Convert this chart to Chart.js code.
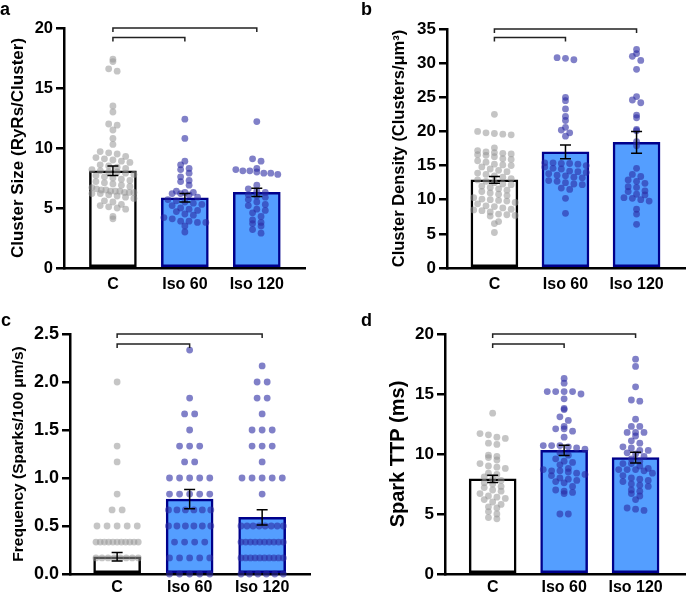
<!DOCTYPE html>
<html>
<head>
<meta charset="utf-8">
<script src="https://cdn.jsdelivr.net/npm/chart.js@4/dist/chart.umd.min.js"></script>
<style>
body { margin: 0; background: #fff; width: 689px; height: 593px; position: relative; overflow: hidden; font-family: "Liberation Sans", Arial, sans-serif; }
.panel { position: absolute; }
.tag { position: absolute; font-weight: bold; font-size: 18px; line-height: 18px; color: #000; }
</style>
</head>
<body>
<div class="panel" style="left:0;top:0"><canvas id="chart-a" width="345" height="295"></canvas></div>
<div class="panel" style="left:345px;top:0"><canvas id="chart-b" width="344" height="295"></canvas></div>
<div class="panel" style="left:0;top:295px"><canvas id="chart-c" width="345" height="298"></canvas></div>
<div class="panel" style="left:345px;top:295px"><canvas id="chart-d" width="344" height="298"></canvas></div>
<div class="tag" style="left:0;top:0">a</div>
<div class="tag" style="left:361px;top:0">b</div>
<div class="tag" style="left:1px;top:311px">c</div>
<div class="tag" style="left:361px;top:311px">d</div>
<script>
const groups = ["C", "Iso 60", "Iso 120"];

// a - cluster size
const sizeMeans = [8.1, 5.85, 6.3];
const sizeSems = [0.4, 0.35, 0.35];
const sizeC = [17.4, 17.2, 16.6, 16.4, 13.5, 13.0, 12.0, 11.9, 11.5, 10.8, 10.3, 9.7, 9.6, 9.5, 9.3, 9.2, 9.1, 9.0, 8.9, 8.8, 8.6, 8.5, 8.4, 8.3, 8.2, 8.1, 8.0, 8.0, 7.9, 7.8, 7.7, 7.6, 7.5, 7.4, 7.3, 7.2, 7.1, 7.0, 6.9, 6.8, 6.7, 6.6, 6.5, 6.5, 6.4, 6.4, 6.4, 6.3, 6.3, 6.3, 6.2, 6.2, 6.1, 6.0, 5.9, 5.8, 5.6, 5.5, 5.3, 5.2, 5.1, 5.0, 4.9, 4.3, 4.1];
const sizeIso60 = [12.4, 10.8, 8.9, 8.6, 8.3, 8.2, 7.9, 7.6, 7.3, 7.2, 6.9, 6.4, 6.3, 6.3, 6.2, 6.2, 6.1, 5.9, 5.7, 5.6, 5.5, 5.4, 5.3, 5.2, 5.0, 4.9, 4.8, 4.7, 4.5, 4.4, 4.2, 4.1, 3.9, 3.9, 3.8, 3.8, 3.5, 3.0];
const sizeIso120 = [12.2, 9.1, 8.9, 8.3, 8.2, 8.1, 8.1, 8.0, 7.9, 7.9, 7.8, 6.9, 6.6, 6.4, 6.3, 6.1, 6.0, 5.9, 5.7, 5.5, 5.3, 5.2, 4.9, 4.8, 4.6, 4.3, 4.0, 3.8, 3.7, 3.5, 3.2, 2.9];

// b - cluster density
const densityMeans = [12.9, 17.0, 18.4];
const densitySems = [0.5, 1.0, 1.6];
const densityC = [22.5, 20.0, 19.8, 19.7, 19.6, 19.5, 17.6, 17.2, 17.0, 16.9, 16.8, 16.7, 16.6, 16.5, 16.3, 16.0, 15.9, 15.7, 15.5, 15.2, 15.1, 15.0, 14.8, 14.5, 14.3, 14.1, 13.9, 13.7, 13.5, 13.3, 13.1, 12.9, 12.7, 12.5, 12.3, 12.2, 12.0, 11.8, 11.6, 11.4, 11.2, 11.0, 10.8, 10.6, 10.3, 10.1, 10.0, 9.9, 9.8, 9.6, 9.4, 9.1, 9.0, 8.8, 8.6, 8.5, 8.4, 8.2, 7.9, 7.8, 7.7, 7.6, 6.8, 6.5, 5.2];
const densityIso60 = [30.8, 30.7, 30.5, 25.0, 24.5, 23.3, 22.2, 21.6, 20.6, 20.2, 19.8, 19.3, 15.4, 15.4, 15.3, 15.3, 15.2, 15.0, 14.8, 14.6, 14.5, 14.2, 14.1, 14.0, 13.8, 13.6, 13.5, 13.3, 13.2, 12.8, 12.7, 12.5, 12.3, 12.2, 11.7, 11.5, 10.2, 8.0];
const densityIso120 = [32.0, 31.4, 31.0, 30.4, 29.1, 25.1, 24.6, 24.2, 22.4, 22.0, 20.3, 20.1, 18.5, 17.9, 14.6, 13.7, 13.4, 12.9, 12.7, 12.4, 11.9, 11.8, 11.3, 11.2, 10.8, 10.7, 10.3, 10.2, 10.0, 9.8, 8.6, 7.9, 6.4];

// c - spark frequency
const freqMeans = [0.18, 0.78, 0.59];
const freqSems = [0.045, 0.1, 0.08];
const freqC = [2.0, 1.333, 1.167, 0.833, 0.667, 0.667, 0.5, 0.5, 0.5, 0.5, 0.5,
  0.333, 0.333, 0.333, 0.333, 0.333, 0.333, 0.333, 0.333, 0.333, 0.333, 0.333,
  0.167, 0.167, 0.167, 0.167, 0.167, 0.167, 0.167, 0.167];
const freqIso60 = [2.333, 1.833, 1.667, 1.667, 1.5, 1.333, 1.333, 1.333, 1.167, 1.167,
  1.0, 1.0, 1.0, 1.0, 1.0, 0.833, 0.833, 0.833, 0.833, 0.833,
  0.667, 0.667, 0.667, 0.667, 0.667, 0.667, 0.5, 0.5, 0.5, 0.5, 0.5, 0.5,
  0.333, 0.333, 0.333, 0.333, 0.167, 0.167, 0.167, 0.167, 0.167, 0, 0, 0, 0, 0];
const freqIso120 = [2.167, 2.0, 2.0, 1.833, 1.833, 1.667, 1.5, 1.5, 1.5, 1.333, 1.333, 1.333, 1.167,
  1.0, 1.0, 1.0, 1.0, 1.0, 0.833,
  0.5, 0.5, 0.5, 0.5, 0.5, 0.5, 0.5, 0.5,
  0.333, 0.333, 0.333, 0.333, 0.333, 0.333, 0.333, 0.333, 0.333, 0.333,
  0.167, 0.167, 0.167, 0.167, 0.167, 0.167, 0.167, 0.167, 0.167, 0.167, 0, 0, 0, 0, 0, 0];

// d - spark time to peak
const ttpMeans = [7.93, 10.3, 9.7];
const ttpSems = [0.3, 0.42, 0.45];
const ttpC = [13.4, 11.7, 11.6, 11.4, 11.3, 10.9, 10.8, 9.9, 9.8, 9.7, 9.5, 9.2, 9.0, 8.9, 8.8, 8.4, 8.3, 8.1, 7.9, 7.8, 7.6, 7.5, 7.3, 7.2, 7.0, 6.9, 6.7, 6.5, 6.4, 6.3, 6.2, 6.0, 5.8, 5.6, 5.5, 5.2, 5.0, 4.7, 4.6];
const ttpIso60 = [16.3, 15.9, 15.2, 15.2, 15.2, 15.2, 15.0, 14.6, 13.8, 13.7, 13.1, 12.8, 12.3, 12.1, 12.1, 11.9, 11.4, 10.7, 10.7, 10.7, 10.6, 10.5, 10.4, 10.1, 9.9, 9.6, 9.4, 9.3, 9.1, 8.8, 8.7, 8.6, 8.6, 8.5, 8.4, 8.3, 8.2, 8.0, 7.9, 7.8, 7.7, 7.6, 7.3, 7.0, 6.9, 6.8, 6.7, 5.0, 5.0];
const ttpIso120 = [17.9, 17.3, 15.6, 14.5, 14.4, 12.9, 12.3, 12.3, 11.8, 11.8, 11.8, 11.5, 11.1, 10.9, 10.6, 10.5, 10.3, 10.3, 10.1, 10.0, 9.8, 9.6, 9.4, 9.2, 9.2, 9.0, 8.8, 8.7, 8.7, 8.7, 8.6, 8.4, 8.2, 8.0, 7.9, 7.8, 7.7, 7.5, 7.4, 7.3, 7.0, 6.9, 6.7, 6.5, 6.2, 5.5, 5.4, 5.3];

const COL_PX = 72; // pixels per group column

// simple row-binned scatter layout (like a column scatter plot)
function swarm(values, bin, gap) {
	const rows = {};
	values.forEach((v, i) => {
		const k = Math.round(v / bin);
		(rows[k] = rows[k] || []).push(i);
	});
	const off = new Array(values.length).fill(0);
	Object.values(rows).forEach(idx => {
		const n = idx.length;
		const s = n > 1 ? Math.min(gap, 42 / (n - 1)) : 0;
		idx.forEach((i, j) => { off[i] = (j - (n - 1) / 2) * s / COL_PX; });
	});
	return off;
}

function makePanel(id, cfg) {
	const blue = "rgb(84,158,255)";
	const navy = "rgb(0,0,139)";
	const family = "'Liberation Sans', Arial, sans-serif";
	const tickFont = { family: family, size: cfg.tickSize, weight: "bold" };
	const labelFont = { family: family, size: 16, weight: "bold" };

	const dots = cfg.values.map((vals, i) => {
		const off = swarm(vals, cfg.bin, cfg.gap);
		return {
			type: "scatter",
			data: vals.map((v, j) => ({ x: i + off[j], y: v })),
			pointRadius: 3.4,
			pointHoverRadius: 3.4,
			pointBorderWidth: 0,
			pointBackgroundColor: i === 0 ? "rgba(150,150,150,0.55)" : "rgba(43,43,163,0.6)",
			clip: false,
			order: 1
		};
	});

	const marks = {
		id: "marks",
		afterDatasetsDraw(chart) {
			const { ctx, scales: { x, y } } = chart;
			ctx.save();
			ctx.strokeStyle = "#000";
			ctx.lineWidth = 1.5;
			cfg.means.forEach((m, i) => {
				const cx = x.getPixelForValue(i);
				const top = y.getPixelForValue(m + cfg.sems[i]);
				const bot = y.getPixelForValue(m - cfg.sems[i]);
				ctx.beginPath();
				ctx.moveTo(cx, top); ctx.lineTo(cx, bot);
				ctx.moveTo(cx - 5.5, top); ctx.lineTo(cx + 5.5, top);
				ctx.moveTo(cx - 5.5, bot); ctx.lineTo(cx + 5.5, bot);
				ctx.stroke();
			});
			ctx.strokeStyle = "#222";
			cfg.brackets.forEach(b => {
				const yy = y.getPixelForValue(b.level);
				const x0 = x.getPixelForValue(b.from);
				const x1 = x.getPixelForValue(b.to);
				ctx.beginPath();
				ctx.moveTo(x0, yy + 4); ctx.lineTo(x0, yy); ctx.lineTo(x1, yy); ctx.lineTo(x1, yy + 4);
				ctx.stroke();
			});
			ctx.restore();
		}
	};

	return new Chart(document.getElementById(id), {
		type: "bar",
		data: {
			datasets: [{
				type: "bar",
				data: cfg.means.map((m, i) => ({ x: i, y: m })),
				backgroundColor: ["#fff", blue, blue],
				borderColor: ["#000", navy, navy],
				borderWidth: 2.5,
				borderSkipped: false,
				barThickness: 47,
				order: 2
			}].concat(dots)
		},
		options: {
			responsive: false,
			animation: false,
			events: [],
			layout: { padding: { left: 0, top: cfg.top, right: cfg.right, bottom: 0 } },
			plugins: { legend: { display: false }, tooltip: { enabled: false } },
			scales: {
				x: {
					type: "linear",
					offset: false,
					min: cfg.xmin,
					max: cfg.xmax,
					afterBuildTicks: s => { s.ticks = [0, 1, 2].map(v => ({ value: v })); },
					afterFit: s => { s.height = cfg.xh; },
					grid: { display: false, drawTicks: false },
					border: { display: true, color: "#000", width: 2.5 },
					ticks: { autoSkip: false, maxRotation: 0, color: "#000", font: labelFont, padding: cfg.xpad, callback: v => groups[v] }
				},
				y: {
					min: 0,
					max: cfg.ymax,
					afterFit: s => { s.width = cfg.axisW; },
					grid: { display: true, drawOnChartArea: false, tickLength: 8, lineWidth: 2.5, color: "#000" },
					border: { display: true, color: "#000", width: 2.5 },
					ticks: { stepSize: cfg.step, color: "#000", font: tickFont, padding: 3, callback: v => v.toFixed(cfg.dec) },
					title: {
						display: true,
						text: cfg.title,
						color: "#000",
						font: { family: family, size: cfg.titleSize, weight: "bold" },
						padding: { top: cfg.titlePad, bottom: 0 }
					}
				}
			}
		},
		plugins: [marks]
	});
}

makePanel("chart-a", {
	means: sizeMeans, sems: sizeSems, values: [sizeC, sizeIso60, sizeIso120],
	ymax: 20, step: 5, dec: 0, bin: 0.5, gap: 8.5, tickSize: 16.5,
	title: "Cluster Size (RyRs/Cluster)", titleSize: 17, titlePad: 8,
	axisW: 64, top: 28, right: 40, xh: 27, xpad: 7, xmin: -0.68, xmax: 2.67,
	brackets: [{ from: 0, to: 2, level: 20 }, { from: 0, to: 1, level: 19.2 }]
});

makePanel("chart-b", {
	means: densityMeans, sems: densitySems, values: [densityC, densityIso60, densityIso120],
	ymax: 35, step: 5, dec: 0, bin: 0.9, gap: 8.5, tickSize: 17,
	title: "Cluster Density (Clusters/μm³)", titleSize: 16.5, titlePad: 44.5,
	axisW: 102, top: 29, right: 0, xh: 27, xpad: 7, xmin: -0.667, xmax: 2.69,
	brackets: [{ from: 0, to: 2, level: 35 }, { from: 0, to: 1, level: 33.75 }]
});

makePanel("chart-c", {
	means: freqMeans, sems: freqSems, values: [freqC, freqIso60, freqIso120],
	ymax: 2.5, step: 0.5, dec: 1, bin: 1 / 6, gap: 10, tickSize: 18,
	title: "Frequency (Sparks/100 μm/s)", titleSize: 15.5, titlePad: 9.5,
	axisW: 70, top: 39, right: 35, xh: 19, xpad: 4, xmin: -0.65, xmax: 2.66,
	brackets: [{ from: 0, to: 2, level: 2.5 }, { from: 0, to: 1, level: 2.396 }]
});

makePanel("chart-d", {
	means: ttpMeans, sems: ttpSems, values: [ttpC, ttpIso60, ttpIso120],
	ymax: 20, step: 5, dec: 0, bin: 0.5, gap: 8.5, tickSize: 17,
	title: "Spark TTP (ms)", titleSize: 20, titlePad: 41,
	axisW: 100, top: 39, right: 0, xh: 19, xpad: 4, xmin: -0.667, xmax: 2.7,
	brackets: [{ from: 0, to: 2, level: 20 }, { from: 0, to: 1, level: 19.17 }]
});
</script>
</body>
</html>
